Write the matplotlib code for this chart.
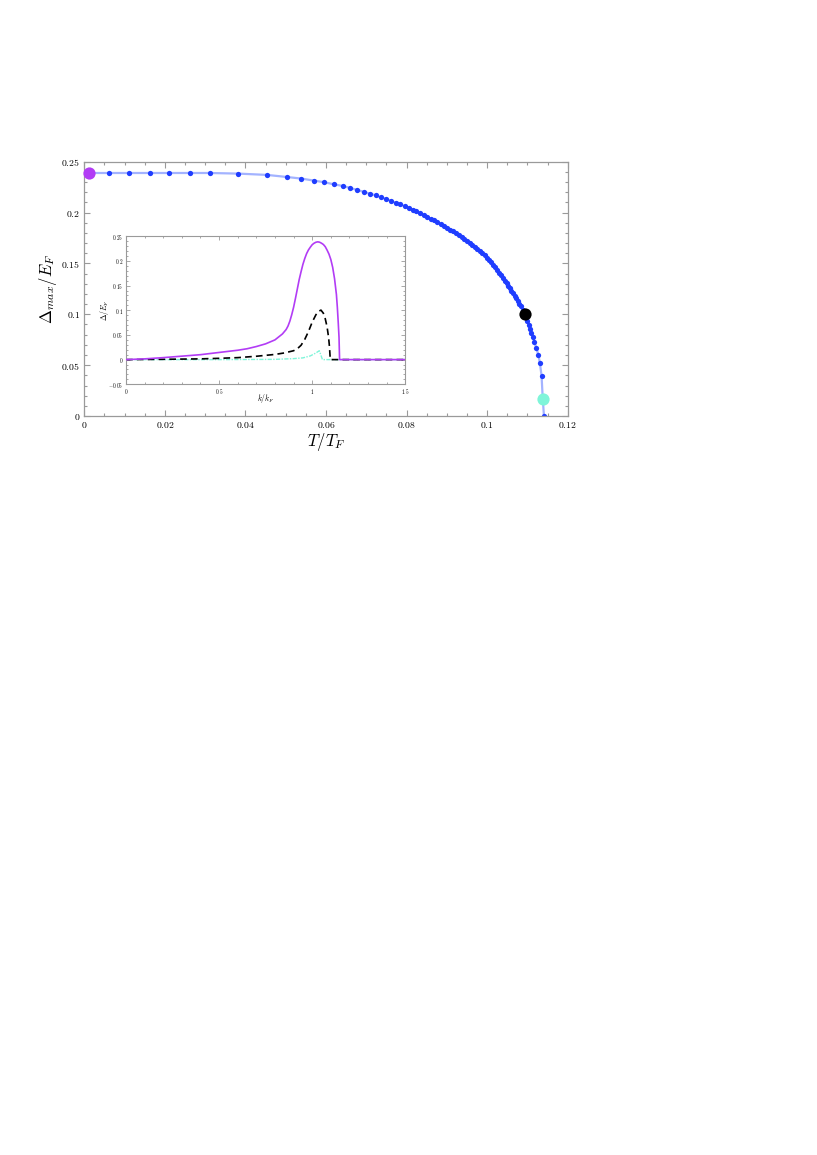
import matplotlib
matplotlib.use('Agg')
import matplotlib.pyplot as plt
from matplotlib.ticker import MultipleLocator, FuncFormatter

plt.rcParams['mathtext.fontset'] = 'cm'
plt.rcParams['font.family'] = ['DejaVu Serif']

# ---------------- data: main panel ----------------
T_over_TF = [0.0012, 0.0061, 0.0112, 0.0162, 0.0211, 0.0262, 0.0311, 0.0382, 0.0454, 0.0502,
             0.0539, 0.0570, 0.0596, 0.0619, 0.0641, 0.0660, 0.0678, 0.0694, 0.0709, 0.0723,
             0.0736, 0.0750, 0.0762, 0.0773, 0.0784, 0.0795, 0.0805, 0.0815, 0.0824, 0.0833,
             0.0842, 0.0850, 0.0860, 0.0868, 0.0876, 0.0885, 0.0893, 0.0900, 0.0908, 0.0915,
             0.0922, 0.0930, 0.0937, 0.0943, 0.0950, 0.0957, 0.0963, 0.0970, 0.0976, 0.0982,
             0.0988, 0.0994, 0.1000, 0.1005, 0.1010, 0.1015, 0.1020, 0.1025, 0.1030, 0.1035,
             0.1040, 0.1044, 0.1048, 0.1052, 0.1056, 0.1060, 0.1064, 0.1068, 0.1072, 0.1076,
             0.1080, 0.1084, 0.1088, 0.1093, 0.1099, 0.1103, 0.1106, 0.1110, 0.1114, 0.1117,
             0.1122, 0.1127, 0.1131, 0.1135, 0.1138, 0.1141]
Delta_max = [0.2389, 0.2389, 0.2389, 0.2389, 0.2389, 0.2389, 0.2389, 0.2383, 0.2370, 0.2350,
             0.2334, 0.2314, 0.2298, 0.2278, 0.2262, 0.2242, 0.2222, 0.2203, 0.2186, 0.2170,
             0.2150, 0.2134, 0.2114, 0.2097, 0.2082, 0.2062, 0.2045, 0.2029, 0.2013, 0.1993,
             0.1976, 0.1960, 0.1940, 0.1924, 0.1905, 0.1888, 0.1868, 0.1852, 0.1832, 0.1816,
             0.1796, 0.1777, 0.1760, 0.1740, 0.1721, 0.1701, 0.1681, 0.1662, 0.1641, 0.1621,
             0.1601, 0.1579, 0.1556, 0.1533, 0.1510, 0.1486, 0.1462, 0.1436, 0.1410, 0.1383,
             0.1354, 0.1331, 0.1307, 0.1282, 0.1257, 0.1232, 0.1207, 0.1182, 0.1157, 0.1131,
             0.1105, 0.1077, 0.1045, 0.1003, 0.0937, 0.0898, 0.0858, 0.0819, 0.0780, 0.0728,
             0.0669, 0.0603, 0.0518, 0.0396, 0.0170, 0.0000]

highlight_T = [0.0012, 0.1093, 0.1138]
highlight_D = [0.2389, 0.1003, 0.0170]
highlight_colors = ['#b23cf5', '#000000', '#7ff5d9']

# ---------------- data: inset ----------------
k_purple = [0.0, 0.1, 0.2, 0.3, 0.4, 0.5, 0.6, 0.65, 0.7, 0.75, 0.8, 0.84, 0.86, 0.87, 0.88,
            0.89, 0.90, 0.91, 0.92, 0.93, 0.94, 0.95, 0.96, 0.97, 0.98, 0.99, 1.00, 1.01,
            1.02, 1.03, 1.04, 1.05, 1.06, 1.07, 1.08, 1.09, 1.10, 1.11, 1.12, 1.13, 1.135,
            1.14, 1.144, 1.147, 1.2, 1.5]
D_purple = [0.0, 0.0015, 0.004, 0.007, 0.010, 0.0145, 0.019, 0.022, 0.0265, 0.032, 0.040,
            0.052, 0.061, 0.068, 0.078, 0.091, 0.106, 0.124, 0.143, 0.162, 0.178, 0.193,
            0.205, 0.215, 0.2225, 0.228, 0.233, 0.236, 0.238, 0.2388, 0.238, 0.236, 0.2334,
            0.229, 0.222, 0.214, 0.203, 0.187, 0.164, 0.132, 0.106, 0.074, 0.045, 0.0, 0.0, 0.0]

k_black = [0.0, 0.2, 0.4, 0.5, 0.6, 0.7, 0.8, 0.85, 0.9, 0.92, 0.94, 0.96, 0.98, 1.0, 1.02,
           1.035, 1.047, 1.06, 1.07, 1.08, 1.088, 1.093, 1.097, 1.2, 1.5]
D_black = [0.0, 0.0006, 0.0015, 0.0026, 0.004, 0.0068, 0.0105, 0.0135, 0.018, 0.022, 0.029,
           0.041, 0.057, 0.076, 0.091, 0.098, 0.1004, 0.094, 0.083, 0.066, 0.045, 0.025, 0.0,
           0.0, 0.0]

k_cyan = [0.0, 0.5, 0.8, 0.9, 0.95, 0.99, 1.02, 1.038, 1.045, 1.055, 1.2, 1.5]
D_cyan = [0.0, 0.0, 0.0005, 0.002, 0.0035, 0.0075, 0.0135, 0.018, 0.011, 0.0, 0.0, 0.0]

main_xticks = [0, 0.02, 0.04, 0.06, 0.08, 0.1, 0.12]
main_yticks = [0, 0.05, 0.1, 0.15, 0.2, 0.25]
inset_xticks = [0, 0.5, 1, 1.5]
inset_yticks = [-0.05, 0, 0.05, 0.1, 0.15, 0.2, 0.25]

SPINE = '#9a9a9a'
fmt = FuncFormatter(lambda v, p: f"${v:g}$")

fig = plt.figure(figsize=(8.17, 11.55), dpi=100)

# ---------------- main axes ----------------
ax = fig.add_axes([0.1032, 0.6398, 0.5917, 0.2202])
ax.plot(T_over_TF, Delta_max, '-', color='#a3b3ff', lw=1.6, zorder=1)
ax.plot(T_over_TF, Delta_max, 'o', color='#1f3dff', ms=3.8, mec='none', zorder=2)
for t, d, c in zip(highlight_T, highlight_D, highlight_colors):
    ax.plot([t], [d], 'o', color=c, ms=8.8, mec='none', zorder=3, clip_on=False)

ax.set_xlim(0, 0.12)
ax.set_ylim(0, 0.25)
ax.set_xticks(main_xticks)
ax.set_yticks(main_yticks)
ax.xaxis.set_minor_locator(MultipleLocator(0.005))
ax.yaxis.set_minor_locator(MultipleLocator(0.01))
ax.xaxis.set_major_formatter(fmt)
ax.yaxis.set_major_formatter(fmt)
ax.tick_params(which='both', direction='in', top=True, right=True, color=SPINE,
               labelsize=7, width=0.8)
ax.tick_params(which='major', length=4, pad=3)
ax.tick_params(which='minor', length=2.3)
for s in ax.spines.values():
    s.set_color(SPINE)
    s.set_linewidth(0.9)
ax.set_xlabel(r'$T/T_F$', fontsize=12)
ax.set_ylabel(r'$\Delta_{max}/E_F$', fontsize=12)
ax.xaxis.set_label_coords(0.5, -0.058)
ax.yaxis.set_label_coords(-0.052, 0.5)

# ---------------- inset ----------------
ins = fig.add_axes([0.1542, 0.6673, 0.3419, 0.1281])
ins.plot(k_purple, D_purple, '-', color='#b23cf5', lw=1.2, zorder=3)
ins.plot(k_black, D_black, '--', color='black', lw=1.2, dashes=(4, 2.5), zorder=2)
ins.plot(k_cyan, D_cyan, '-', color='#7ff5d9', lw=1.0, dashes=(3, 1, 1, 1), zorder=1)
ins.set_xlim(0, 1.5)
ins.set_ylim(-0.05, 0.25)
ins.set_xticks(inset_xticks)
ins.set_yticks(inset_yticks)
ins.xaxis.set_minor_locator(MultipleLocator(0.1))
ins.yaxis.set_minor_locator(MultipleLocator(0.01))
ins.xaxis.set_major_formatter(fmt)
ins.yaxis.set_major_formatter(fmt)
ins.tick_params(which='both', direction='in', top=True, right=True, color=SPINE,
                labelsize=3.8, width=0.6)
ins.tick_params(which='major', length=3, pad=2)
ins.tick_params(which='minor', length=1.5)
for s in ins.spines.values():
    s.set_color(SPINE)
    s.set_linewidth(0.8)
ins.set_xlabel(r'$k/k_F$', fontsize=5.5)
ins.set_ylabel(r'$\Delta/E_F$', fontsize=5.5)
ins.xaxis.set_label_coords(0.5, -0.05)
ins.yaxis.set_label_coords(-0.055, 0.5)

fig.savefig('out.png', dpi=100)
